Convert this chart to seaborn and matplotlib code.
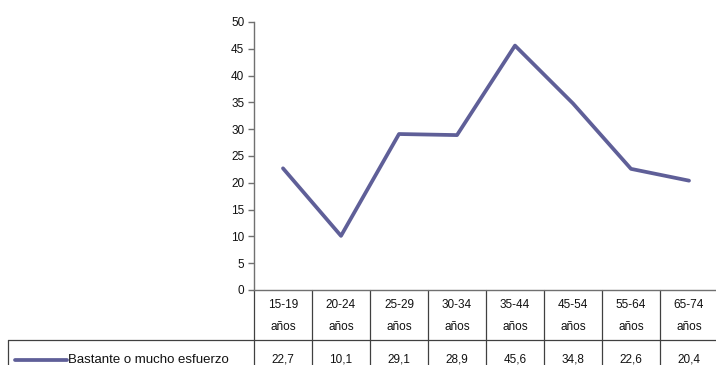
import matplotlib
matplotlib.use("Agg")
import matplotlib.pyplot as plt
import matplotlib.transforms as mtransforms
import seaborn as sns
import pandas as pd

categories = ["15-19\naños", "20-24\naños", "25-29\naños", "30-34\naños",
              "35-44\naños", "45-54\naños", "55-64\naños", "65-74\naños"]
values = [22.7, 10.1, 29.1, 28.9, 45.6, 34.8, 22.6, 20.4]
value_labels = ["22,7", "10,1", "29,1", "28,9", "45,6", "34,8", "22,6", "20,4"]
series_name = "Bastante o mucho esfuerzo"

sns.set_style("white")
plt.rcParams['font.family'] = ['Liberation Sans', 'DejaVu Sans']

W, H = 716, 365
fig = plt.figure(figsize=(W / 100, H / 100), dpi=100)

def fx(x):
    return x / W

def fy(y):
    return (H - y) / H

left_px, right_px, top_px, bottom_px = 254, 718, 22, 290
ax = fig.add_axes([fx(left_px), fy(bottom_px), fx(right_px) - fx(left_px), fy(top_px) - fy(bottom_px)])

df = pd.DataFrame({"pos": range(len(categories)), "value": values})
line_color = "#5F5F98"
sns.lineplot(data=df, x="pos", y="value", ax=ax, color=line_color, linewidth=2.7)

ax.set_xlim(-0.5, len(categories) - 0.5)
ax.set_ylim(0, 50)
ax.set_yticks(range(0, 51, 5))
ax.set_xticks([])
ax.set_xlabel("")
ax.set_ylabel("")
for s in ["top", "right"]:
    ax.spines[s].set_visible(False)
axis_color = "#707070"
ax.spines["left"].set_color(axis_color)
ax.spines["bottom"].set_color(axis_color)
ax.spines["left"].set_linewidth(1.0)
ax.spines["bottom"].set_linewidth(1.0)
ax.tick_params(axis="y", which="major", direction="out", length=4, width=1,
               color=axis_color, labelsize=8.5, labelcolor="#111111", pad=3, left=True)

# Data table
blend = mtransforms.blended_transform_factory(ax.transData, fig.transFigure)
grid_color = "#404040"
for k in range(len(categories) + 1):
    xb = k - 0.5
    ax.plot([xb, xb], [fy(290), fy(366)], transform=blend, color=grid_color,
            linewidth=0.9, clip_on=False)
# horizontal line between rows
fig.add_artist(plt.Line2D([fx(8), fx(720)], [fy(340), fy(340)], transform=fig.transFigure,
                          color=grid_color, linewidth=0.9))
fig.add_artist(plt.Line2D([fx(8), fx(8)], [fy(340), fy(366)], transform=fig.transFigure,
                          color=grid_color, linewidth=0.9))

for i, lab in enumerate(categories):
    top, bottom = lab.split("\n")
    ax.text(i, fy(305), top, transform=blend, ha="center", va="center",
            fontsize=8.5, color="#111111")
    ax.text(i, fy(327), bottom, transform=blend, ha="center", va="center",
            fontsize=8.5, color="#111111")
    ax.text(i, fy(359), value_labels[i], transform=blend, ha="center", va="center",
            fontsize=8.5, color="#111111")

# legend key in table
fig.add_artist(plt.Line2D([fx(15), fx(67)], [fy(360), fy(360)], transform=fig.transFigure,
                          color=line_color, linewidth=2.7))
fig.text(fx(68), fy(360), series_name, ha="left", va="center", fontsize=9.5, color="#111111")

fig.savefig("out.png", dpi=100)
